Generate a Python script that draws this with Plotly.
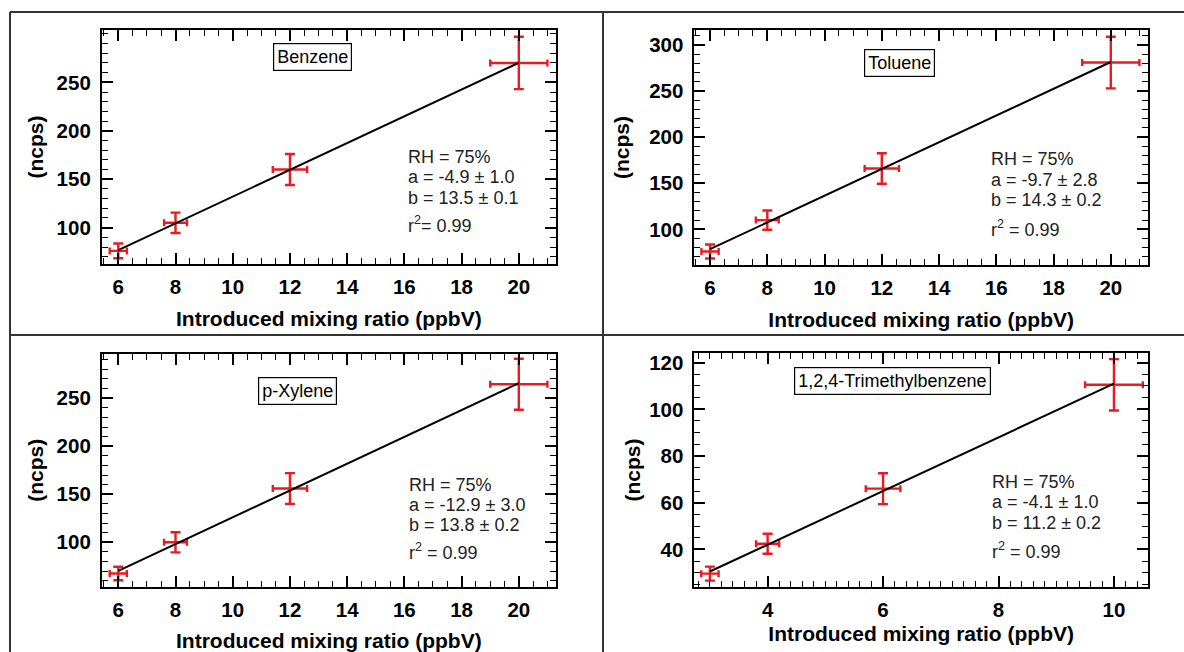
import numpy as np
import plotly.graph_objects as go

# ---------------- data ----------------
compounds = ["Benzene", "Toluene", "p-Xylene", "1,2,4-Trimethylbenzene"]

benzene_x = [6, 8, 12, 20]
benzene_y = [76, 105, 160, 270]
benzene_ex = [0.3, 0.4, 0.6, 1.0]
benzene_ey = [7.6, 10.5, 16, 27]
benzene_stats = ["RH = 75%", "a = -4.9 ± 1.0", "b = 13.5 ± 0.1", "r<sup>2</sup>= 0.99"]

toluene_x = [6, 8, 12, 20]
toluene_y = [76, 110, 166, 281]
toluene_ex = [0.3, 0.4, 0.6, 1.0]
toluene_ey = [7.6, 10.5, 16.6, 28]
toluene_stats = ["RH = 75%", "a = -9.7 ± 2.8", "b = 14.3 ± 0.2", "r<sup>2</sup> = 0.99"]

xylene_x = [6, 8, 12, 20]
xylene_y = [67.5, 100, 156, 264.5]
xylene_ex = [0.3, 0.4, 0.6, 1.0]
xylene_ey = [7, 10.5, 16, 26.5]
xylene_stats = ["RH = 75%", "a = -12.9 ± 3.0", "b = 13.8 ± 0.2", "r<sup>2</sup> = 0.99"]

tmb_x = [3, 4, 6, 10]
tmb_y = [29.6, 42.4, 66, 110.5]
tmb_ex = [0.15, 0.2, 0.3, 0.5]
tmb_ey = [3, 4.3, 6.6, 11]
tmb_stats = ["RH = 75%", "a = -4.1 ± 1.0", "b = 11.2 ± 0.2", "r<sup>2</sup> = 0.99"]

x_title = "Introduced mixing ratio (ppbV)"
y_title = "(ncps)"

# ---------------- layout config ----------------
W, H = 1184, 652
RED = "#ec1a1f"
FONT = "Liberation Sans, Arial, sans-serif"

def px_x(p):
    return p / W

def px_y(p):
    return 1 - p / H

panels = [
    dict(x=benzene_x, y=benzene_y, ex=benzene_ex, ey=benzene_ey, stats=benzene_stats,
         xdom=(101.7, 556), ydom=(30, 264), xr=[5.42, 21.3], yr=[62.5, 304],
         ytickvals=[100, 150, 200, 250], xdt=2, xminor=0.5, yminor=10,
         label_pos=(0.463, 0.8825), stats_x=0.669, stats_y=[0.4585, 0.3731, 0.2808, 0.1667],
         xstand=14, ystand=7),
    dict(x=toluene_x, y=toluene_y, ex=toluene_ex, ey=toluene_ey, stats=toluene_stats,
         xdom=(694.3, 1148), ydom=(30, 265), xr=[5.45, 21.3], yr=[61.3, 316.3],
         ytickvals=[100, 150, 200, 250, 300], xdt=2, xminor=0.5, yminor=10,
         label_pos=(0.453, 0.86), stats_x=0.65, stats_y=[0.451, 0.362, 0.2766, 0.1574],
         xstand=14, ystand=14),
    dict(x=xylene_x, y=xylene_y, ex=xylene_ex, ey=xylene_ey, stats=xylene_stats,
         xdom=(101.7, 556), ydom=(354, 586.7), xr=[5.42, 21.3], yr=[53.8, 296],
         ytickvals=[100, 150, 200, 250], xdt=2, xminor=0.5, yminor=10,
         label_pos=(0.432, 0.843), stats_x=0.673, stats_y=[0.437, 0.351, 0.265, 0.1504],
         xstand=17, ystand=7),
    dict(x=tmb_x, y=tmb_y, ex=tmb_ex, ey=tmb_ey, stats=tmb_stats,
         xdom=(694.3, 1148), ydom=(353.3, 586.7), xr=[2.73, 10.59], yr=[24, 124],
         ytickvals=[40, 60, 80, 100, 120], xdt=2, xminor=0.2, yminor=5,
         label_pos=(0.437, 0.881), stats_x=0.652, stats_y=[0.4473, 0.3616, 0.2742, 0.1572],
         xstand=6, ystand=3),
]

fig = go.Figure()
layout = dict(
    width=W, height=H, margin=dict(l=0, r=0, t=0, b=0),
    paper_bgcolor="white", plot_bgcolor="white", showlegend=False,
    font=dict(family=FONT, color="black"),
)
annotations = []
shapes = []

for i, p in enumerate(panels, start=1):
    sfx = "" if i == 1 else str(i)
    xa, ya = "x" + sfx, "y" + sfx
    # fitted line through the points
    slope, icpt = np.polyfit(p["x"], p["y"], 1)
    lx = np.array([min(p["x"]), max(p["x"])])
    fig.add_trace(go.Scatter(
        x=p["x"], y=p["y"], mode="markers",
        marker=dict(size=1, color=RED),
        error_x=dict(type="data", array=p["ex"], color=RED, thickness=2.4, width=3.5),
        error_y=dict(type="data", array=p["ey"], color=RED, thickness=2.4, width=5),
        xaxis=xa, yaxis=ya, hoverinfo="skip"))
    fig.add_trace(go.Scatter(
        x=lx, y=slope * lx + icpt, mode="lines",
        line=dict(color="black", width=2), xaxis=xa, yaxis=ya, hoverinfo="skip"))

    common = dict(showline=True, linecolor="black", linewidth=1.6, mirror="ticks",
                  ticks="inside", ticklen=11, tickwidth=1.6, tickcolor="black",
                  showgrid=False, zeroline=False, automargin=False,
                  tickfont=dict(family=FONT, size=20.5, color="black", weight="bold"))
    layout["xaxis" + sfx] = dict(
        common, domain=[px_x(p["xdom"][0]), px_x(p["xdom"][1])], range=p["xr"],
        anchor=ya, tick0=0, dtick=p["xdt"], ticklabelstandoff=4,
        minor=dict(ticks="inside", ticklen=6, tickwidth=1.3, tickcolor="black",
                   tick0=0, dtick=p["xminor"], showgrid=False),
        title=dict(text=x_title, standoff=p["xstand"],
                   font=dict(family=FONT, size=21, color="black", weight="bold")))
    layout["yaxis" + sfx] = dict(
        common, domain=[px_y(p["ydom"][1]), px_y(p["ydom"][0])], range=p["yr"],
        anchor=xa, tickmode="array", tickvals=p["ytickvals"], ticklabelstandoff=5,
        minor=dict(ticks="inside", ticklen=6, tickwidth=1.3, tickcolor="black",
                   tickmode="linear", tick0=0, dtick=p["yminor"], showgrid=False),
        title=dict(text=y_title, standoff=p["ystand"],
                   font=dict(family=FONT, size=21, color="black", weight="bold")))

    # compound label box
    annotations.append(dict(
        text=compounds[i - 1], xref=xa + " domain", yref=ya + " domain",
        x=p["label_pos"][0], y=p["label_pos"][1], xanchor="center", yanchor="middle",
        showarrow=False, font=dict(family=FONT, size=18, color="black"),
        bordercolor="black", borderwidth=1.2, borderpad=3, bgcolor="white"))
    # statistics text
    for line, yy in zip(p["stats"], p["stats_y"]):
        annotations.append(dict(
            text=line, xref=xa + " domain", yref=ya + " domain",
            x=p["stats_x"], y=yy, xanchor="left", yanchor="middle",
            showarrow=False, font=dict(family=FONT, size=18, color="#222")))

# table borders around the panels
border = dict(type="line", xref="paper", yref="paper", line=dict(color="#333", width=2))
shapes.append(dict(border, x0=px_x(10), x1=1.0, y0=px_y(12), y1=px_y(12)))
shapes.append(dict(border, x0=px_x(10), x1=1.0, y0=px_y(335), y1=px_y(335)))
shapes.append(dict(border, x0=px_x(10), x1=px_x(10), y0=px_y(12), y1=0))
shapes.append(dict(border, x0=px_x(603), x1=px_x(603), y0=px_y(12), y1=0))

layout["annotations"] = annotations
layout["shapes"] = shapes
fig.update_layout(**layout)
fig.write_html("out.html")
